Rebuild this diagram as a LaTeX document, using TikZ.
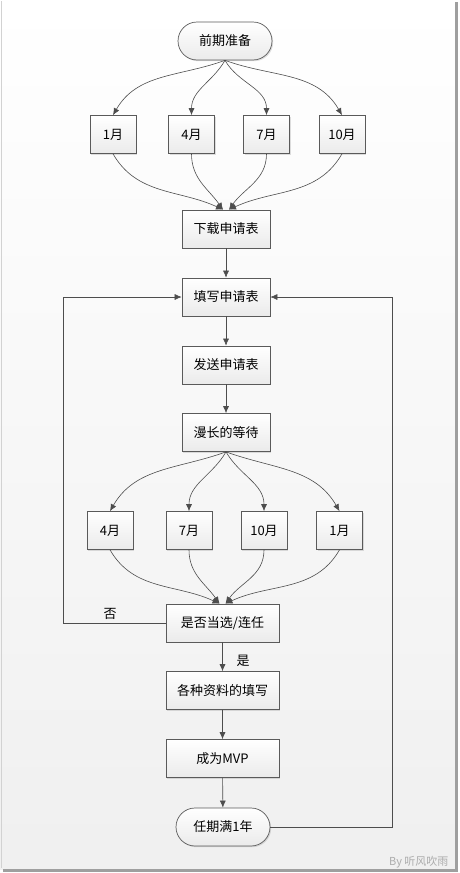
\documentclass[tikz,border=0pt]{standalone}
\usepackage{fontspec}
\setmainfont{Noto Sans CJK SC}
\usetikzlibrary{arrows.meta}
\usetikzlibrary{positioning}
\usetikzlibrary{shadows}

\definecolor{linegray}{HTML}{4D4D4D}
\definecolor{boxedge}{HTML}{5A5A5A}

\tikzset{
    box/.style={draw=boxedge, line width=0.7pt, top color=white, bottom color=gray!16,
        minimum height=38pt, inner sep=0pt, font=\fontsize{13}{15}\selectfont,
        drop shadow={shadow xshift=1.2pt, shadow yshift=-1.2pt, opacity=0.25}},
    month/.style={box, minimum width=46pt},
    task/.style={box, minimum width=88pt},
    wide/.style={box, minimum width=113pt},
    term/.style={box, minimum width=94pt, rounded corners=19pt},
    arr/.style={draw=linegray, line width=0.6pt, -{Latex[length=7pt,width=6pt]}},
    lbl/.style={font=\fontsize{13}{15}\selectfont},
}

\begin{document}
\begin{tikzpicture}[x=1pt,y=1pt]
    \useasboundingbox (0,0) rectangle (459,-873);
    % background and frame
    \shade[top color=white, bottom color=gray!12] (0,0) rectangle (455,-869);
    \draw[gray!35, line width=0.5pt] (1,-1) -- (1,-868);
    \fill[gray!75] (455,-2) rectangle (458,-872);
    \fill[gray!75] (3,-869) rectangle (458,-872);
    \node[anchor=east, text=gray!65, font=\fontsize{11}{13}\selectfont] (by) at (452,-862) {By 听风吹雨};
    %
    \node[term] (prep) at (225,-41) {前期准备};
    \node[month] (a1) at (113,-134.5) {1月};
    \node[month] (a4) at (191.5,-134.5) {4月};
    \node[month] (a7) at (266.5,-134.5) {7月};
    \node[month] (a10) at (342,-134.5) {10月};
    \node[task] (down) at (226,-229) {下载申请表};
    \node[task] (fill) at (226,-297) {填写申请表};
    \node[task] (send) at (226,-365) {发送申请表};
    \node[task] (wait) at (226,-432.5) {漫长的等待};
    \node[month] (b4) at (110,-530.5) {4月};
    \node[month] (b7) at (189,-530.5) {7月};
    \node[month] (b10) at (264,-530.5) {10月};
    \node[month] (b1) at (339.5,-530.5) {1月};
    \node[wide] (elect) at (222.5,-623) {是否当选/连任};
    \node[wide] (forms) at (222.5,-690.5) {各种资料的填写};
    \node[wide] (mvp) at (222.5,-758.5) {成为MVP};
    \node[term] (done) at (223,-827) {任期满1年};
    \coordinate (lft) at (63,0);
    \coordinate (rgt) at (392,0);
    %
    \draw[arr] (prep.south) to[out=200,in=60] (a1.north);
    \draw[arr] (prep.south) to[out=240,in=90] (a4.north);
    \draw[arr] (prep.south) to[out=300,in=90] (a7.north);
    \draw[arr] (prep.south) to[out=340,in=120] (a10.north);
    \draw[arr] (a1.south) to[out=-60,in=155] ([xshift=-3pt]down.north);
    \draw[arr] (a4.south) to[out=-90,in=125] ([xshift=-3pt]down.north);
    \draw[arr] (a7.south) to[out=-90,in=55] ([xshift=3pt]down.north);
    \draw[arr] (a10.south) to[out=-120,in=25] ([xshift=3pt]down.north);
    %
    \draw[arr] (down) -- (fill);
    \draw[arr] (fill) -- (send);
    \draw[arr] (send) -- (wait);
    %
    \draw[arr] (wait.south) to[out=200,in=60] (b4.north);
    \draw[arr] (wait.south) to[out=240,in=90] (b7.north);
    \draw[arr] (wait.south) to[out=300,in=90] (b10.north);
    \draw[arr] (wait.south) to[out=340,in=120] (b1.north);
    \draw[arr] (b4.south) to[out=-60,in=155] ([xshift=-3pt]elect.north);
    \draw[arr] (b7.south) to[out=-90,in=125] ([xshift=-3pt]elect.north);
    \draw[arr] (b10.south) to[out=-90,in=55] ([xshift=3pt]elect.north);
    \draw[arr] (b1.south) to[out=-120,in=25] ([xshift=3pt]elect.north);
    %
    \draw[arr] (elect.west) -- (elect.west -| lft) |- (fill.west);
    \node[lbl] (no) at (110,-614) {否};
    \draw[arr] (elect) -- (forms);
    \node[lbl] (yes) at (243,-661) {是};
    \draw[arr] (forms) -- (mvp);
    \draw[arr] (mvp) -- (done);
    \draw[arr] (done.east) -- (done.east -| rgt) |- (fill.east);
\end{tikzpicture}
\end{document}
